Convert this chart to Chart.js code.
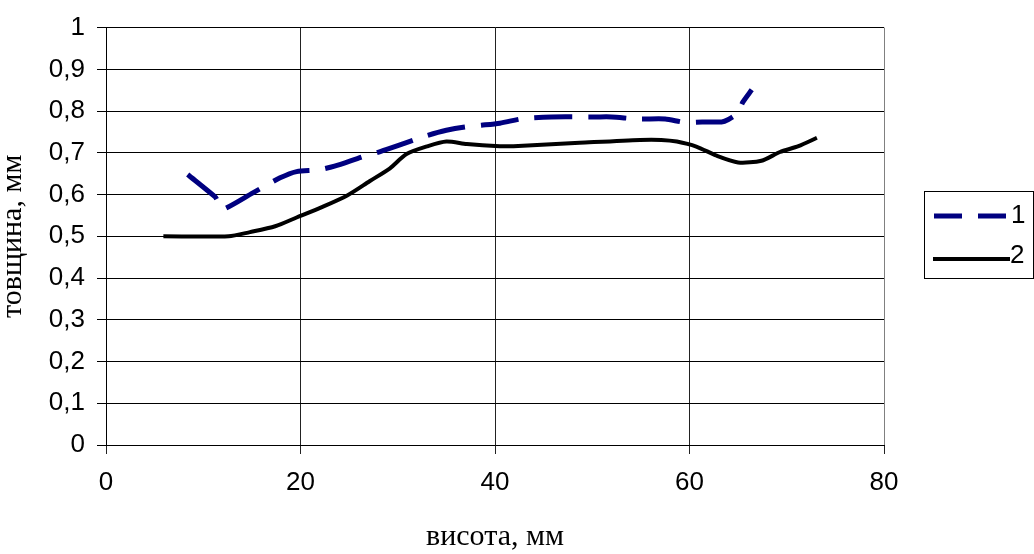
<!DOCTYPE html>
<html>
<head>
<meta charset="utf-8">
<script src="https://cdn.jsdelivr.net/npm/chart.js@4/dist/chart.umd.min.js"></script>
<style>
  html, body { margin: 0; padding: 0; background: #ffffff; }
  #wrap { width: 1034px; height: 554px; position: relative; }
</style>
</head>
<body>
<div id="wrap"><canvas id="c" width="1034" height="554"></canvas></div>
<script>
// Thickness profile along the height, two measurements
const series1X = [8.4, 11.2, 11.4, 11.7, 12.1, 15.1, 17.9, 19.6, 21.8, 23.5, 26.3, 28.2, 30.6, 32.8, 35.0, 36.9, 38.6, 40.5, 42.9, 45.8, 50.3, 52.0, 54.7, 57.5, 59.5, 61.3, 63.3, 64.0, 64.9, 65.5, 66.4];
const series1Y = [0.648, 0.595, 0.588, 0.572, 0.565, 0.604, 0.640, 0.655, 0.659, 0.668, 0.690, 0.703, 0.722, 0.740, 0.754, 0.762, 0.766, 0.771, 0.782, 0.786, 0.786, 0.786, 0.781, 0.781, 0.773, 0.774, 0.774, 0.780, 0.794, 0.822, 0.851];

const series2X = [5.9, 12.6, 14.8, 17.4, 19.6, 22.2, 24.8, 27.1, 29.2, 30.9, 33.1, 35.0, 37.1, 40.5, 41.9, 48.7, 54.9, 57.1, 58.7, 60.7, 62.8, 65.0, 67.4, 69.3, 71.2, 73.1];
const series2Y = [0.500, 0.500, 0.510, 0.524, 0.545, 0.570, 0.598, 0.632, 0.663, 0.697, 0.716, 0.727, 0.721, 0.716, 0.716, 0.724, 0.731, 0.731, 0.727, 0.715, 0.693, 0.677, 0.681, 0.702, 0.716, 0.736];

const seriesNames = ['1', '2'];
const yTickLabels = ['0', '0,1', '0,2', '0,3', '0,4', '0,5', '0,6', '0,7', '0,8', '0,9', '1'];
const xTickLabels = ['0', '20', '40', '60', '80'];
const xTitle = 'висота, мм';
const yTitle = 'товщина, мм';

function toPoints(xs, ys) {
  return xs.map((x, i) => ({ x: x, y: ys[i] }));
}

// Boxed legend to the right of the plot area
const boxedLegend = {
  id: 'boxedLegend',
  afterDraw(chart) {
    const ctx = chart.ctx;
    const left = 924.5, top = 191.5, right = 1033.5, bottom = 278.5;
    ctx.save();
    ctx.strokeStyle = '#000000';
    ctx.lineWidth = 1;
    ctx.strokeRect(left, top, right - left, bottom - top);
    const rows = [
      { y: 216, x0: 934, x1: 1007, tx: 1011, ty: 216 },
      { y: 259, x0: 933, x1: 1010, tx: 1010, ty: 256 }
    ];
    chart.data.datasets.forEach((ds, i) => {
      const r = rows[i];
      ctx.beginPath();
      ctx.strokeStyle = ds.borderColor;
      ctx.lineWidth = ds.borderWidth;
      ctx.setLineDash(ds.legendDash || []);
      ctx.moveTo(r.x0, r.y);
      ctx.lineTo(r.x1, r.y);
      ctx.stroke();
      ctx.setLineDash([]);
      ctx.fillStyle = '#000000';
      ctx.font = '26px "Liberation Sans", Arial, sans-serif';
      ctx.textAlign = 'left';
      ctx.textBaseline = 'middle';
      ctx.fillText(ds.label, r.tx, r.ty);
    });
    ctx.restore();
  }
};

new Chart(document.getElementById('c'), {
  type: 'scatter',
  data: {
    datasets: [
      {
        label: seriesNames[0],
        data: toPoints(series1X, series1Y),
        showLine: true,
        borderColor: '#000080',
        backgroundColor: '#000080',
        borderWidth: 5,
        borderDash: [38, 16],
        legendDash: [28, 16],
        pointRadius: 0,
        tension: 0.25,
        fill: false
      },
      {
        label: seriesNames[1],
        data: toPoints(series2X, series2Y),
        showLine: true,
        borderColor: '#000000',
        backgroundColor: '#000000',
        borderWidth: 4,
        pointRadius: 0,
        tension: 0.25,
        fill: false
      }
    ]
  },
  options: {
    responsive: false,
    animation: false,
    devicePixelRatio: 1,
    layout: { padding: { left: 0, right: 150, top: 23, bottom: 0 } },
    plugins: {
      legend: { display: false },
      tooltip: { enabled: false }
    },
    scales: {
      x: {
        type: 'linear',
        min: 0,
        max: 80,
        afterFit(scale) { scale.height = 109; },
        ticks: {
          stepSize: 20,
          padding: 13,
          color: '#000000',
          font: { family: '"Liberation Sans", Arial, sans-serif', size: 26 },
          callback: (v) => xTickLabels[Math.round(v / 20)]
        },
        grid: {
          color: (c) => (c.tick && c.tick.value === 80 ? '#808080' : '#222222'),
          lineWidth: 1,
          tickLength: 9,
          tickColor: '#222222'
        },
        border: { display: true, color: '#000000', width: 1 },
        title: {
          display: true,
          text: xTitle,
          color: '#000000',
          font: { family: '"Liberation Serif", "Times New Roman", serif', size: 30, lineHeight: 1.0 },
          padding: { top: 0, bottom: 2 }
        }
      },
      y: {
        type: 'linear',
        min: 0,
        max: 1,
        afterFit(scale) { scale.width = 106; },
        ticks: {
          stepSize: 0.1,
          padding: 12,
          color: '#000000',
          font: { family: '"Liberation Sans", Arial, sans-serif', size: 26 },
          callback: (v) => yTickLabels[Math.round(v * 10)]
        },
        grid: {
          color: '#000000',
          lineWidth: 1,
          tickLength: 9,
          tickColor: '#000000'
        },
        border: { display: true, color: '#000000', width: 1 },
        title: {
          display: true,
          text: yTitle,
          color: '#000000',
          font: { family: '"Liberation Serif", "Times New Roman", serif', size: 30, lineHeight: 0.9 },
          padding: { top: 0, bottom: 0 }
        }
      }
    }
  },
  plugins: [boxedLegend]
});
</script>
</body>
</html>
